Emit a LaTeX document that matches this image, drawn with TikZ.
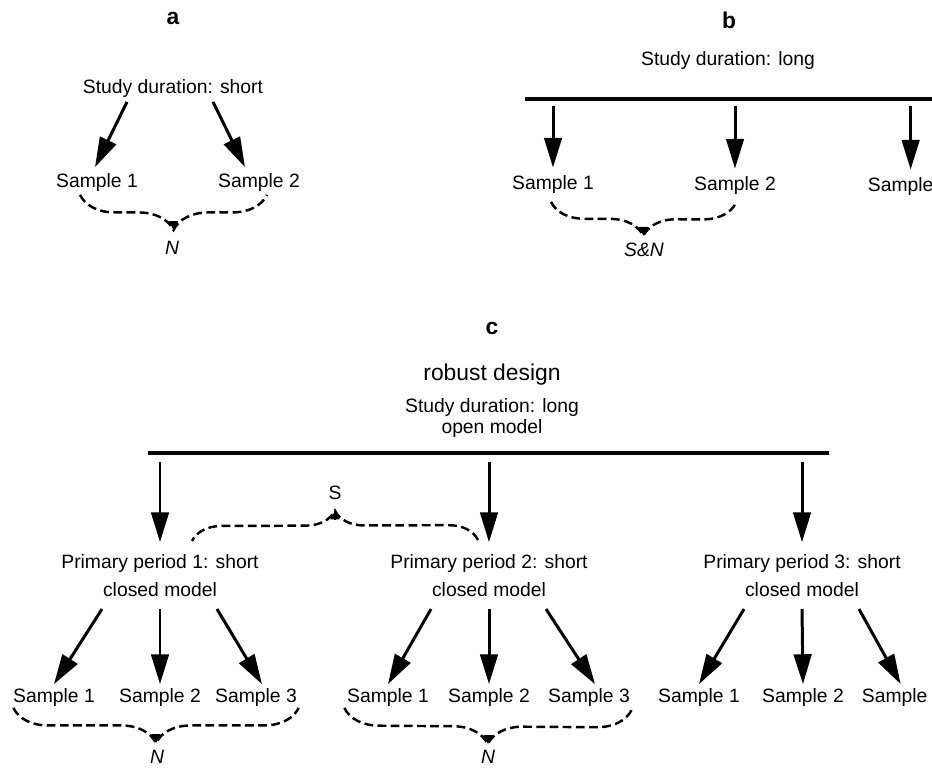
\documentclass[tikz,border=0pt]{standalone}
\usepackage{fontspec}
\setmainfont{Liberation Sans}
\usetikzlibrary{arrows.meta, calc, decorations.pathreplacing}

\begin{document}
\begin{tikzpicture}[x=0.02cm, y=-0.02cm,
	every node/.style={font=\fontsize{11}{13}\selectfont, inner sep=2pt},
	title/.style={font=\fontsize{13}{15}\selectfont\bfseries},
	two/.style={align=center, font=\fontsize{11}{16}\selectfont},
	arr/.style={-{Triangle[length=17pt, width=10pt]}, line width=1.7pt},
	bar/.style={line width=2.6pt},
	brc/.style={decorate, decoration={brace, mirror, amplitude=20pt},
		dash pattern=on 5pt off 2.5pt, line width=1.4pt},
	tip/.style={-{Triangle[length=5pt, width=5pt]}, line width=1.2pt}]
	\useasboundingbox (0,0) rectangle (932,769);
	\clip (0,0) rectangle (932,769);

	% a
	\node[title] (a) at (173,18) {a};
	\node (a_top) at (173,88) {Study duration: short};
	\node (a_1) at (97,182) {Sample 1};
	\node (a_2) at (259,182) {Sample 2};
	\node (a_N) at (172,248) {\textit{N}};
	\draw[arr] ($(a_top.south)+(-46,1)$) -- ($(a_1.north)+(-2,-2)$);
	\draw[arr] ($(a_top.south)+(40,1)$) -- ($(a_2.north)+(-14,-2)$);
	\coordinate (a_bl) at ($(a_1.south)+(-17,0)$);
	\coordinate (a_br) at ($(a_2.south)+(8,0)$);
	\draw[brc] (a_bl) -- (a_br);
	\draw[tip] ($(a_bl)!0.5!(a_br)+(0,-15pt)$) -- ++(0,-5pt);

	% b
	\node[title] (b) at (729,20) {b};
	\node (b_top) at (728,60) {Study duration: long};
	\coordinate (b_l) at (525,99);
	\coordinate (b_r) at (945,99);
	\draw[bar] (b_l) -- (b_r);
	\node (b_1) at (553,184) {Sample 1};
	\node (b_2) at (735,185) {Sample 2};
	\node[anchor=west] (b_3) at (864,186) {Sample};
	\node (b_SN) at (644,250) {\textit{S\&N}};
	\foreach \s in {b_1, b_2}
		\draw[arr, shorten <=4pt, shorten >=2pt] (\s.north |- b_l) -- (\s.north);
	\draw[arr, shorten <=4pt, shorten >=2pt] ($(b_3.north |- b_l)+(10,0)$) -- ($(b_3.north)+(10,0)$);
	\coordinate (b_bl) at ($(b_1.south)+(-2,5)$);
	\coordinate (b_br) at ($(b_2.south)+(1,5)$);
	\draw[brc, decoration={amplitude=19pt}] (b_bl) -- (b_br);
	\draw[tip] ($(b_bl)!0.5!(b_br)+(0,-14pt)$) -- ++(0,-5pt);

	% c
	\node[title] (c) at (492,328) {c};
	\node[font=\fontsize{13}{15}\selectfont] (c_rd) at (492,375) {robust design};
	\node[align=center, font=\fontsize{11}{11.5}\selectfont] (c_top) at (492,418) {Study duration: long\\open model};
	\coordinate (c_l) at (148,453);
	\coordinate (c_r) at (829,453);
	\draw[bar] (c_l) -- (c_r);
	\node[two] (c_p1) at (160,576) {Primary period 1: short\\closed model};
	\node[two] (c_p2) at (489,576) {Primary period 2: short\\closed model};
	\node[two] (c_p3) at (802,576) {Primary period 3: short\\closed model};
	\foreach \p in {c_p1, c_p2, c_p3}
		\draw[arr, shorten <=5pt, shorten >=5pt] (\p.north |- c_l) -- (\p.north);

	\node (c1_1) at (54,697) {Sample 1};
	\node (c1_2) at (160,697) {Sample 2};
	\node (c1_3) at (256,697) {Sample 3};
	\node (c2_1) at (388,697) {Sample 1};
	\node (c2_2) at (489,697) {Sample 2};
	\node (c2_3) at (589,697) {Sample 3};
	\node (c3_1) at (699,697) {Sample 1};
	\node (c3_2) at (803,697) {Sample 2};
	\node[anchor=west] (c3_3) at (858,697) {Sample};
	\foreach \i in {1,2,3} {
		\draw[arr] ($(c_p\i.south)+(-58,8)$) -- (c\i_1.north);
		\draw[arr] ($(c_p\i.south)+(0,8)$) -- (c\i_2.north);
		\draw[arr] ($(c_p\i.south)+(57,8)$) -- ($(c\i_3.north)+(6,0)$);
	}

	\node (c_S) at (335,493) {S};
	\coordinate (c_sl) at ($(c_p1.north)+(32,-10)$);
	\coordinate (c_sr) at ($(c_p2.north)+(-11,-11)$);
	\draw[brc, decoration={amplitude=17pt}] (c_sr) -- (c_sl);
	\draw[tip] ($(c_sl)!0.5!(c_sr)+(0,12pt)$) -- ++(0,5pt);

	\node (c_N1) at (157,757) {\textit{N}};
	\node (c_N2) at (488,757) {\textit{N}};
	\coordinate (c_n1l) at ($(c1_1.south west)+(4,-2)$);
	\coordinate (c_n1r) at ($(c1_3.south east)+(-2,-2)$);
	\coordinate (c_n2l) at ($(c2_1.south west)+(1,-2)$);
	\coordinate (c_n2r) at ($(c2_3.south east)+(-2,0)$);
	\draw[brc] (c_n1l) -- (c_n1r);
	\draw[brc] (c_n2l) -- (c_n2r);
	\draw[tip] ($(c_n1l)!0.5!(c_n1r)+(0,-15pt)$) -- ++(0,-5pt);
	\draw[tip] ($(c_n2l)!0.5!(c_n2r)+(0,-15pt)$) -- ++(0,-5pt);
\end{tikzpicture}
\end{document}
